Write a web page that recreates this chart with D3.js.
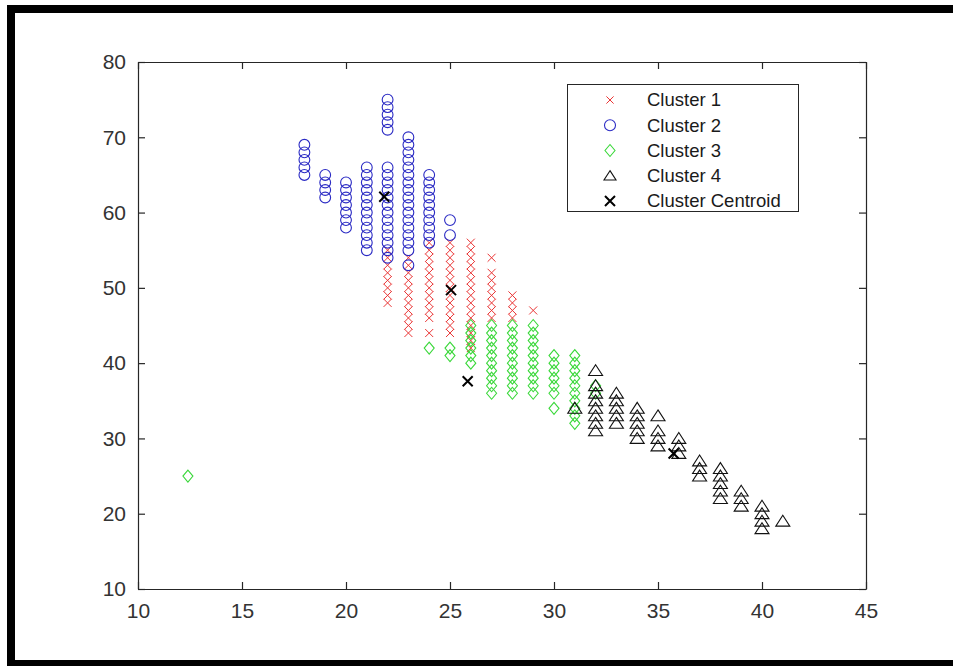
<!DOCTYPE html>
<html>
<head>
<meta charset="utf-8">
<script src="https://cdn.jsdelivr.net/npm/d3@7/dist/d3.min.js"></script>
<style>
  html, body { margin: 0; padding: 0; background: #fff; }
  svg { display: block; font-family: "Liberation Sans", Arial, Helvetica, sans-serif; }
</style>
</head>
<body>
<svg id="chart" width="953" height="666"></svg>
<script>
// Cluster memberships: each column lists the y values found at one x value.
const cluster1 = [
  { x: 22, y: [48, 49, 50, 51, 52, 53, 54, 55] },
  { x: 23, y: [44, 45, 46, 47, 48, 49, 50, 51, 52, 53, 54] },
  { x: 24, y: [44, 46, 47, 48, 49, 50, 51, 52, 53, 54, 55, 56] },
  { x: 25, y: [44, 45, 46, 47, 48, 49, 50, 51, 52, 53, 54, 55, 56] },
  { x: 26, y: [42, 43, 44, 45, 46, 47, 48, 49, 50, 51, 52, 53, 54, 55, 56] },
  { x: 27, y: [46, 47, 48, 49, 50, 51, 52, 54] },
  { x: 28, y: [46, 47, 48, 49] },
  { x: 29, y: [47] }
];
const cluster2 = [
  { x: 18, y: [65, 66, 67, 68, 69] },
  { x: 19, y: [62, 63, 64, 65] },
  { x: 20, y: [58, 59, 60, 61, 62, 63, 64] },
  { x: 21, y: [55, 56, 57, 58, 59, 60, 61, 62, 63, 64, 65, 66] },
  { x: 22, y: [54, 55, 56, 57, 58, 59, 60, 61, 62, 63, 64, 65, 66, 71, 72, 73, 74, 75] },
  { x: 23, y: [53, 55, 56, 57, 58, 59, 60, 61, 62, 63, 64, 65, 66, 67, 68, 69, 70] },
  { x: 24, y: [56, 57, 58, 59, 60, 61, 62, 63, 64, 65] },
  { x: 25, y: [57, 59] }
];
const cluster3 = [
  { x: 12.4, y: [25] },
  { x: 24, y: [42] },
  { x: 25, y: [41, 42] },
  { x: 26, y: [40, 41, 42, 43, 44, 45] },
  { x: 27, y: [36, 37, 38, 39, 40, 41, 42, 43, 44, 45] },
  { x: 28, y: [36, 37, 38, 39, 40, 41, 42, 43, 44, 45] },
  { x: 29, y: [36, 37, 38, 39, 40, 41, 42, 43, 44, 45] },
  { x: 30, y: [34, 36, 37, 38, 39, 40, 41] },
  { x: 31, y: [32, 33, 34, 35, 36, 37, 38, 39, 40, 41] },
  { x: 32, y: [36, 37] }
];
const cluster4 = [
  { x: 31, y: [34] },
  { x: 32, y: [31, 32, 33, 34, 35, 36, 37, 39] },
  { x: 33, y: [32, 33, 34, 35, 36] },
  { x: 34, y: [30, 31, 32, 33, 34] },
  { x: 35, y: [29, 30, 31, 33] },
  { x: 36, y: [28, 29, 30] },
  { x: 37, y: [25, 26, 27] },
  { x: 38, y: [22, 23, 24, 25, 26] },
  { x: 39, y: [21, 22, 23] },
  { x: 40, y: [18, 19, 20, 21] },
  { x: 41, y: [19] }
];
const centroidX = [25.05, 21.84, 25.85, 35.75];
const centroidY = [49.7, 62.1, 37.6, 28.0];

const xTicks = [10, 15, 20, 25, 30, 35, 40, 45];
const yTicks = [10, 20, 30, 40, 50, 60, 70, 80];
const legendLabels = ["Cluster 1", "Cluster 2", "Cluster 3", "Cluster 4", "Cluster Centroid"];

const svg = d3.select("#chart");
const axisColor = "#262626";

// Page frame
svg.append("rect").attr("x", 7).attr("y", 5).attr("width", 946).attr("height", 8).attr("fill", "#000");
svg.append("rect").attr("x", 7).attr("y", 5).attr("width", 8).attr("height", 661).attr("fill", "#000");
svg.append("rect").attr("x", 7).attr("y", 660).attr("width", 946).attr("height", 6).attr("fill", "#000");

const x = d3.scaleLinear().domain([10, 45]).range([138, 866]);
const y = d3.scaleLinear().domain([10, 80]).range([589, 62]);

// Marker shapes
const shapes = {
  cross: s => `M${-s},${-s}L${s},${s}M${-s},${s}L${s},${-s}`,
  circle: r => `M${-r},0A${r},${r} 0 1,0 ${r},0A${r},${r} 0 1,0 ${-r},0Z`,
  diamond: s => `M0,${-s * 1.2}L${s},0L0,${s * 1.2}L${-s},0Z`,
  triangle: s => `M0,${-s * 0.85}L${s},${s * 0.7}L${-s},${s * 0.7}Z`
};

const series = [
  { data: cluster1, path: shapes.cross(4), color: "#ea3535", width: 1 },
  { data: cluster2, path: shapes.circle(5.4), color: "#2b2bc4", width: 1.1 },
  { data: cluster3, path: shapes.diamond(5), color: "#3ad83a", width: 1.1 },
  { data: cluster4, path: shapes.triangle(7), color: "#111", width: 1.1 }
];

const plot = svg.append("g");
series.forEach(s => {
  const pts = s.data.flatMap(col => col.y.map(v => [col.x, v]));
  plot.append("g").selectAll("path").data(pts).join("path")
    .attr("transform", d => `translate(${x(d[0])},${y(d[1])})`)
    .attr("d", s.path)
    .attr("fill", "none")
    .attr("stroke", s.color)
    .attr("stroke-width", s.width);
});

plot.append("g").selectAll("path").data(centroidX.map((cx, i) => [cx, centroidY[i]])).join("path")
  .attr("transform", d => `translate(${x(d[0])},${y(d[1])})`)
  .attr("d", shapes.cross(5))
  .attr("fill", "none")
  .attr("stroke", "#000")
  .attr("stroke-width", 2);

// Axes with inward ticks on all four sides
const tickLen = 7;
const axes = [
  { axis: d3.axisBottom(x).tickValues(xTicks).tickSizeInner(-tickLen).tickSizeOuter(0).tickPadding(14), t: `translate(0,${y(10)})`, labels: true },
  { axis: d3.axisTop(x).tickValues(xTicks).tickSizeInner(-tickLen).tickSizeOuter(0), t: `translate(0,${y(80)})`, labels: false },
  { axis: d3.axisLeft(y).tickValues(yTicks).tickSizeInner(-tickLen).tickSizeOuter(0).tickPadding(12), t: `translate(${x(10)},0)`, labels: true },
  { axis: d3.axisRight(y).tickValues(yTicks).tickSizeInner(-tickLen).tickSizeOuter(0), t: `translate(${x(45)},0)`, labels: false }
];
axes.forEach(a => {
  const g = svg.append("g").attr("transform", a.t).call(a.axis);
  g.select(".domain").attr("stroke", axisColor).attr("stroke-width", 1.2);
  g.selectAll(".tick line").attr("stroke", axisColor).attr("stroke-width", 1.2);
  g.selectAll(".tick text")
    .attr("fill", "#333")
    .style("font-size", "21px")
    .style("font-family", "'Liberation Sans', Arial, sans-serif")
    .style("display", a.labels ? null : "none");
});

// Legend
const legend = svg.append("g");
legend.append("rect")
  .attr("x", 567.5).attr("y", 84.5).attr("width", 231).attr("height", 127)
  .attr("fill", "#fff").attr("stroke", axisColor).attr("stroke-width", 1);
const legendMarks = [
  { path: shapes.cross(3.6), color: "#ea3535", width: 1 },
  { path: shapes.circle(5.5), color: "#2b2bc4", width: 1.1 },
  { path: shapes.diamond(5), color: "#3ad83a", width: 1.1 },
  { path: shapes.triangle(6), color: "#111", width: 1.1 },
  { path: shapes.cross(5), color: "#000", width: 2 }
];
const rowY = d3.scalePoint().domain(legendLabels).range([100, 201]);
const rows = legend.selectAll("g.row").data(legendLabels).join("g")
  .attr("class", "row")
  .attr("transform", d => `translate(0,${rowY(d)})`);
rows.append("path")
  .attr("transform", "translate(610,0)")
  .attr("d", (d, i) => legendMarks[i].path)
  .attr("fill", "none")
  .attr("stroke", (d, i) => legendMarks[i].color)
  .attr("stroke-width", (d, i) => legendMarks[i].width);
rows.append("text")
  .attr("x", 647).attr("y", 0).attr("dy", "0.35em")
  .attr("fill", "#1a1a1a")
  .style("font-size", "18.5px")
  .text(d => d);
</script>
</body>
</html>
